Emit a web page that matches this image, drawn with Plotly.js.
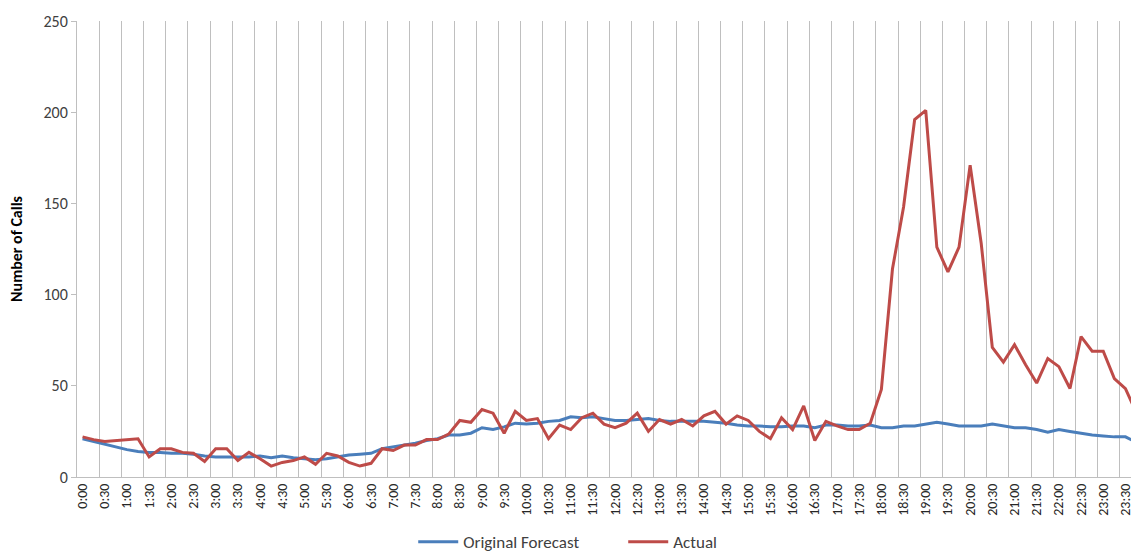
<!DOCTYPE html>
<html>
<head>
<meta charset="utf-8">
<script src="https://cdn.plot.ly/plotly-3.0.1.min.js"></script>
<style>
  html, body { margin: 0; padding: 0; background: #ffffff; }
  #chart { width: 1131px; height: 554px; }
</style>
</head>
<body>
<div id="chart"></div>
<script>
// 15-minute intervals of the day
var categories = [];
for (var h = 0; h < 24; h++) {
  ["00", "15", "30", "45"].forEach(function (m) { categories.push(h + ":" + m); });
}

// tick labels every 30 minutes
var tickLabels = categories.filter(function (c) { return /:(00|30)$/.test(c); });

var forecast = [
  21, 19.5, 18, 16.5, 15, 14, 13.5, 13.5, 13, 13, 12.5, 11.5,
  11, 11, 11, 11, 11.5, 10.5, 11.5, 10.5, 10, 9.5, 10, 11,
  12, 12.5, 13, 15.5, 16.5, 17.5, 18.5, 20, 21, 23, 23, 24,
  27, 26, 27.5, 29.5, 29, 29.5, 30.5, 31, 33, 32.5, 33, 32,
  31, 31, 31.5, 32, 31, 30.5, 30.5, 30.5, 30.5, 30, 29.5, 28.5,
  28, 28, 27.5, 27.5, 28, 28, 27, 28.5, 28.5, 28, 28, 28.5,
  27, 27, 28, 28, 29, 30, 29, 28, 28, 28, 29, 28,
  27, 27, 26, 24.5, 26, 25, 24, 23, 22.5, 22, 22, 19
];

var actual = [
  22, 20.5, 19.5, 20, 20.5, 21, 11, 15.5, 15.5, 13.5, 13, 8.5,
  15.5, 15.5, 9, 13.5, 10, 6, 8, 9, 11, 7, 13, 11.5,
  8, 6, 7.5, 15.5, 14.5, 17.5, 17.5, 20.5, 20.5, 23.5, 31, 30,
  37, 35, 24, 36, 31, 32, 21, 28.5, 26, 32.5, 35, 29,
  27, 29.5, 35, 25, 31.5, 29, 31.5, 28, 33.5, 36, 29, 33.5,
  31, 25, 21, 32.5, 26, 39, 20, 30.5, 28, 26, 26, 29.5,
  48, 114, 148, 196, 201, 126, 112.5, 126, 171, 128, 71, 63,
  72.5, 61.5, 51.5, 65, 60.5, 48.5, 77, 69, 69, 54, 48.5, 35
];

var seriesNames = ["Original Forecast", "Actual"];
var yTitle = "Number of Calls";

var FONT = "Carlito, Lato, 'Liberation Sans', sans-serif";

var traces = [
  {
    x: categories, y: forecast, name: seriesNames[0],
    type: "scatter", mode: "lines",
    line: { color: "#4a7ebb", width: 3 }
  },
  {
    x: categories, y: actual, name: seriesNames[1],
    type: "scatter", mode: "lines",
    line: { color: "#be4b48", width: 3 }
  }
];

var layout = {
  width: 1131, height: 554,
  margin: { l: 77, r: 0, t: 21, b: 77, autoexpand: false },
  paper_bgcolor: "#ffffff", plot_bgcolor: "#ffffff",
  font: { family: FONT, size: 13, color: "#262626" },
  showlegend: true,
  legend: {
    orientation: "h",
    x: 0.319, xanchor: "left",
    y: -0.143, yanchor: "middle",
    font: { family: FONT, size: 17, color: "#404040" },
    itemwidth: 40,
    entrywidth: 155
  },
  xaxis: {
    type: "category",
    categoryorder: "array", categoryarray: categories,
    range: [-0.5, 94.5],
    tickmode: "array", tickvals: tickLabels, ticktext: tickLabels,
    tickson: "boundaries",
    tickangle: -90,
    ticks: "",
    showgrid: true, gridcolor: "#bfbfbf", gridwidth: 1,
    showline: true, linecolor: "#bfbfbf", linewidth: 1,
    zeroline: false,
    automargin: false,
    tickfont: { family: FONT, size: 14, color: "#262626" },
    fixedrange: true
  },
  yaxis: {
    range: [0, 250],
    tickmode: "linear", tick0: 0, dtick: 50,
    showgrid: false,
    showline: true, linecolor: "#bfbfbf", linewidth: 1,
    ticks: "outside", ticklen: 5, tickcolor: "#bfbfbf",
    zeroline: false,
    automargin: false,
    tickfont: { family: FONT, size: 16, color: "#404040" },
    title: { text: yTitle, font: { family: FONT, size: 16, color: "#000000", weight: "bold" }, standoff: 16 },
    fixedrange: true
  }
};

Plotly.newPlot("chart", traces, layout, { displayModeBar: false, staticPlot: true });
</script>
</body>
</html>
